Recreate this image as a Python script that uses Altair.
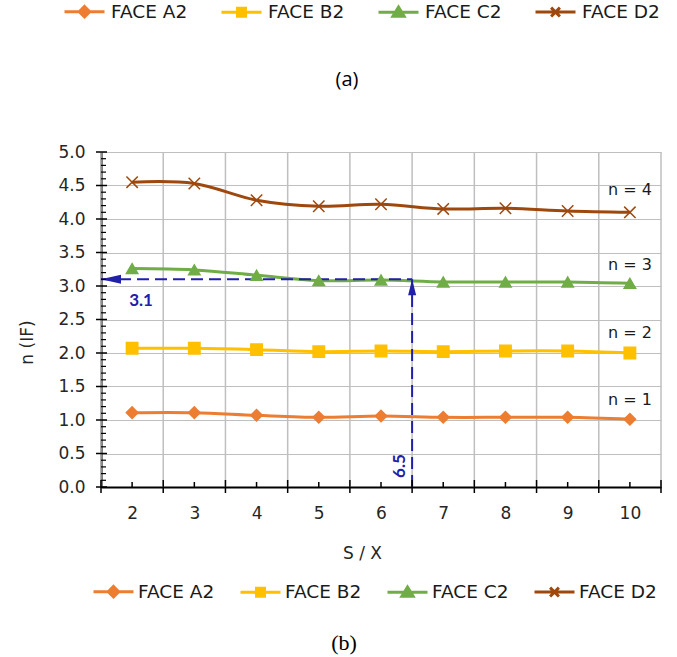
import altair as alt
import pandas as pd

# ---------------- data ----------------
series_names = ["FACE A2", "FACE B2", "FACE C2", "FACE D2"]
sx = [2, 3, 4, 5, 6, 7, 8, 9, 10]
face_a2 = [1.11, 1.11, 1.07, 1.04, 1.06, 1.04, 1.04, 1.04, 1.01]
face_b2 = [2.07, 2.07, 2.05, 2.02, 2.03, 2.02, 2.03, 2.03, 2.00]
face_c2 = [3.26, 3.24, 3.16, 3.08, 3.09, 3.06, 3.06, 3.06, 3.04]
face_d2 = [4.55, 4.53, 4.28, 4.19, 4.22, 4.15, 4.16, 4.12, 4.10]
colors = ["#ED7D31", "#FFC000", "#70AD47", "#9E480E"]

n_labels = ["n = 1", "n = 2", "n = 3", "n = 4"]
n_label_x = [10, 10, 10, 10]
n_label_y = [1.30, 2.30, 3.31, 4.43]

grid_x = [1.5, 2.5, 3.5, 4.5, 5.5, 6.5, 7.5, 8.5, 9.5, 10.5]
y_major = [0.0, 0.5, 1.0, 1.5, 2.0, 2.5, 3.0, 3.5, 4.0, 4.5, 5.0]
y_minor = [round(i * 0.1, 1) for i in range(1, 50) if i % 5 != 0]

ann_x_from, ann_x_to = 1.5, 6.5
ann_y_from, ann_y_to = 0.0, 3.1
ann_x_label, ann_y_label = "6.5", "3.1"

rows = []
for name, vals in zip(series_names, [face_a2, face_b2, face_c2, face_d2]):
    for x, v in zip(sx, vals):
        rows.append({"series": name, "x": x, "y": v})
df = pd.DataFrame(rows)

W, H = 560, 335
BLUE = "#2020A8"
TXT = "#262626"
GRID = "#BFBFBF"
FONT = "DejaVu Sans"

x_scale = alt.Scale(domain=[1.5, 10.5], nice=False, zero=False)
y_scale = alt.Scale(domain=[0, 5], nice=False, zero=True)
color_scale = alt.Scale(domain=series_names, range=colors)
marker_shapes = ["diamond", "square", "triangle-up", "M-1,-1L1,1M-1,1L1,-1"]
legend_paths = [
    "M-1,0L1,0M0,-0.26L0.26,0L0,0.26L-0.26,0Z",
    "M-1,0L1,0M-0.2,-0.2L0.2,-0.2L0.2,0.2L-0.2,0.2Z",
    "M-1,0L1,0M0,-0.26L0.28,0.2L-0.28,0.2Z",
    "M-1,0L1,0M-0.22,-0.22L0.22,0.22M-0.22,0.22L0.22,-0.22",
]

AX_X = alt.Axis(
    values=sx, title="S / X", ticks=False, grid=False, labelPadding=18,
    labelFont=FONT, labelFontSize=17, labelColor=TXT, labelFlush=False, labelOverlap=False,
    domainColor="black", domainWidth=2,
    titleFont=FONT, titleFontSize=17, titleFontWeight="normal", titleColor=TXT,
    titleX=261, titleY=66, titleBaseline="middle", titleAlign="center")
AX_Y = alt.Axis(
    values=y_major, format=".1f", title="n (IF)", ticks=False, grid=True,
    gridColor=GRID, gridWidth=1, labelPadding=16,
    labelFont=FONT, labelFontSize=17, labelColor=TXT, labelFlush=False, labelOverlap=False,
    domainColor="black", domainWidth=2,
    titleFont=FONT, titleFontSize=17, titleFontWeight="normal", titleColor=TXT,
    titleAngle=270, titleX=-74, titleY=190, titleBaseline="middle", titleAlign="center")

xa = lambda f: alt.X(f, scale=x_scale, axis=AX_X)
ya = lambda f: alt.Y(f, scale=y_scale, axis=AX_Y)

# vertical grid lines at category boundaries
vgrid = alt.Chart(pd.DataFrame({"gx": grid_x})).mark_rule(color=GRID, strokeWidth=1.5).encode(
    x=xa("gx:Q"), y=alt.value(0), y2=alt.value(H)
)

lines = alt.Chart(df).mark_line(interpolate="catmull-rom", strokeWidth=3).encode(
    x=xa("x:Q"), y=ya("y:Q"),
    color=alt.Color("series:N", scale=color_scale, legend=None),
)

# annotation dashed lines
ann = pd.DataFrame({"x0": [ann_x_from], "x1": [ann_x_to], "y0": [ann_y_from], "y1": [ann_y_to],
                    "lx": [ann_x_label], "ly": [ann_y_label]})
hline = alt.Chart(ann).mark_rule(color=BLUE, strokeWidth=2, strokeDash=[12, 6]).encode(
    x=xa("x0:Q"), x2="x1:Q", y=ya("y1:Q"))
vline = alt.Chart(ann).mark_rule(color=BLUE, strokeWidth=2, strokeDash=[12, 6]).encode(
    x=xa("x1:Q"), y=ya("y0:Q"), y2="y1:Q")

points = alt.Chart(df).mark_point(filled=True, opacity=1, size=130, strokeWidth=1.5).encode(
    x=xa("x:Q"), y=ya("y:Q"),
    fill=alt.Fill("series:N", scale=color_scale, legend=None),
    stroke=alt.Stroke("series:N", scale=color_scale, legend=None),
    shape=alt.Shape("series:N", scale=alt.Scale(domain=series_names, range=marker_shapes), legend=None),
)

arrow_left = alt.Chart(ann).mark_point(shape="M-1,0L1,-0.45L1,0.45Z", filled=True, opacity=1,
                                       size=400, color=BLUE, xOffset=10).encode(
    x=xa("x0:Q"), y=ya("y1:Q"))
arrow_up = alt.Chart(ann).mark_point(shape="M0,-1L-0.5,1L0.5,1Z", filled=True, opacity=1,
                                     size=256, color=BLUE, yOffset=8).encode(
    x=xa("x1:Q"), y=ya("y1:Q"))

lab_y = alt.Chart(ann).mark_text(font="Lato", fontWeight="bold", fontSize=17, color=BLUE,
                                 dx=40, dy=22, align="center", baseline="middle").encode(
    x=xa("x0:Q"), y=ya("y1:Q"), text="ly:N")
lab_x = alt.Chart(ann).mark_text(font="Lato", fontWeight="bold", fontSize=17, color=BLUE,
                                 angle=270, dx=21, dy=-12, align="center", baseline="middle").encode(
    x=xa("x1:Q"), y=ya("y0:Q"), text="lx:N")

nlab = alt.Chart(pd.DataFrame({"t": n_labels, "nx": n_label_x, "ny": n_label_y})).mark_text(
    font=FONT, fontSize=16, color="#1a1a1a", align="center", baseline="middle").encode(
    x=xa("nx:Q"), y=ya("ny:Q"), text="t:N")

# tick marks
xt_major = alt.Chart(pd.DataFrame({"gx": grid_x})).mark_rule(color="black", strokeWidth=1.5).encode(
    x=xa("gx:Q"), y=alt.value(H - 7), y2=alt.value(H + 6))
xt_minor = alt.Chart(pd.DataFrame({"tx": sx})).mark_rule(color="black", strokeWidth=1.5).encode(
    x=xa("tx:Q"), y=alt.value(H - 5), y2=alt.value(H))
yt_major = alt.Chart(pd.DataFrame({"ty": y_major})).mark_rule(color="black", strokeWidth=1.5).encode(
    y=ya("ty:Q"), x=alt.value(-5), x2=alt.value(6))
yt_minor = alt.Chart(pd.DataFrame({"ty": y_minor})).mark_rule(color="black", strokeWidth=1.2).encode(
    y=ya("ty:Q"), x=alt.value(0), x2=alt.value(5))


def legend_layer(lx, ly, col_pad, label_offset):
    leg = alt.Legend(orient="none", legendX=lx, legendY=ly, direction="horizontal", title=None,
                     symbolSize=1600, symbolStrokeWidth=3, symbolOpacity=1,
                     labelFont=FONT, labelFontSize=18.5, labelColor="#1a1a1a",
                     labelOffset=label_offset, columnPadding=col_pad, padding=0, labelLimit=0)
    return alt.Chart(df).transform_filter("false").mark_point(filled=True, opacity=1, strokeWidth=3).encode(
        fill=alt.Fill("series:N", scale=color_scale, legend=leg),
        stroke=alt.Stroke("series:N", scale=color_scale, legend=leg),
        shape=alt.Shape("series:N", scale=alt.Scale(domain=series_names, range=legend_paths), legend=leg),
    )


top_legend = legend_layer(63 - 101, 10 - 20 - 152, 27, 5)
bottom_legend = legend_layer(92 - 101, 590 - 20 - 152, 19, 3)

cap_a = alt.Chart(pd.DataFrame({"t": ["(a)"]})).mark_text(
    font="Open Sans", fontSize=20, color="black", align="center", baseline="middle").encode(
    text="t:N", x=alt.value(347 - 101), y=alt.value(80 - 152))
cap_b = alt.Chart(pd.DataFrame({"t": ["(b)"]})).mark_text(
    font="Liberation Serif", fontSize=22, color="black", align="center", baseline="middle").encode(
    text="t:N", x=alt.value(344 - 101), y=alt.value(643 - 152))

chart = alt.layer(
    vgrid, lines, hline, vline, points, arrow_left, arrow_up, lab_y, lab_x, nlab,
    xt_major, xt_minor, yt_major, yt_minor, top_legend, bottom_legend, cap_a, cap_b
).resolve_scale(
    color="independent", fill="independent", stroke="independent", shape="independent"
).resolve_legend(
    fill="independent", stroke="independent", shape="independent"
).properties(
    width=W, height=H,
    autosize=alt.AutoSizeParams(type="none"),
    padding={"left": 101, "top": 152, "right": 16, "bottom": 170},
    background="white",
).configure_view(stroke=None)

chart.save("out.html", embed_options={"renderer": "svg", "actions": False})
